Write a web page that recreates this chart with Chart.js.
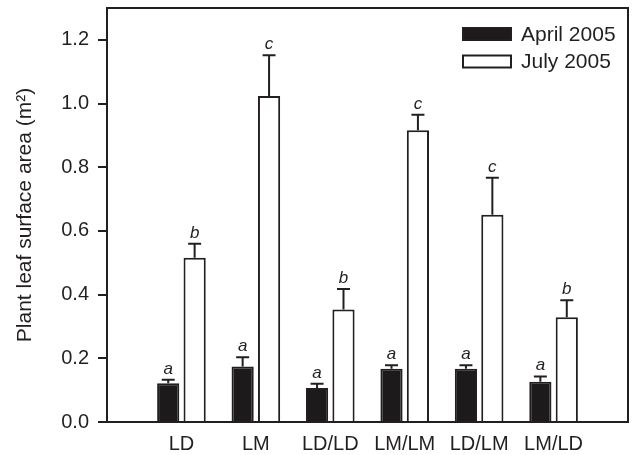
<!DOCTYPE html>
<html><head><meta charset="utf-8">
<script src="https://cdn.jsdelivr.net/npm/chart.js@4"></script>
<style>html,body{margin:0;padding:0;background:#fff}</style>
</head><body>
<canvas id="c" width="633" height="455"></canvas>
<script>
const categories = ['LD', 'LM', 'LD/LD', 'LM/LM', 'LD/LM', 'LM/LD'];
const seriesNames = ['April 2005', 'July 2005'];
const april2005 = [0.122, 0.174, 0.107, 0.167, 0.167, 0.126];
const april2005Err = [0.011, 0.029, 0.013, 0.011, 0.011, 0.017];
const april2005Letters = ['a', 'a', 'a', 'a', 'a', 'a'];
const july2005 = [0.516, 1.024, 0.353, 0.916, 0.651, 0.329];
const july2005Err = [0.044, 0.128, 0.065, 0.049, 0.116, 0.053];
const july2005Letters = ['b', 'c', 'b', 'c', 'c', 'b'];
const yTicks = [0, 0.2, 0.4, 0.6, 0.8, 1.0, 1.2];
const yMax = 1.3;
const yTitle = 'Plant leaf surface area (m\u00B2)';

const INK = '#231f20';
const FONT = "'Liberation Sans', Arial, Helvetica, sans-serif";

// pad with empty slots at both ends so the category axis spans 7 intervals
const labels = [''].concat(categories, ['']);
const pad = arr => [null].concat(arr, [null]);

const errs = [april2005Err, july2005Err];
const letters = [april2005Letters, july2005Letters];

const extrasPlugin = {
  id: 'extras',
  afterDatasetsDraw(chart) {
    const ctx = chart.ctx;
    const y = chart.scales.y;
    ctx.save();
    ctx.strokeStyle = INK;
    ctx.fillStyle = INK;
    ctx.lineWidth = 2;
    chart.data.datasets.forEach((ds, di) => {
      const meta = chart.getDatasetMeta(di);
      meta.data.forEach((el, i) => {
        const v = ds.data[i];
        if (v === null || v === undefined) return;
        const e = errs[di][i - 1];
        const yt = y.getPixelForValue(v + e);
        const yb = y.getPixelForValue(v);
        ctx.beginPath();
        ctx.moveTo(el.x, yb);
        ctx.lineTo(el.x, yt);
        ctx.moveTo(el.x - 6.5, yt);
        ctx.lineTo(el.x + 6.5, yt);
        ctx.stroke();
        ctx.font = "italic 17px " + FONT;
        ctx.textAlign = 'center';
        ctx.textBaseline = 'alphabetic';
        ctx.fillText(letters[di][i - 1], el.x, yt - 6);
      });
    });
    // frame top & right
    const a = chart.chartArea;
    ctx.beginPath();
    ctx.moveTo(a.left, a.top);
    ctx.lineTo(a.right, a.top);
    ctx.lineTo(a.right, a.bottom);
    ctx.stroke();
    // legend
    const bx = a.right - 165;
    chart.data.datasets.forEach((ds, di) => {
      const cy = 34 + di * 27.5;
      ctx.fillStyle = ds.backgroundColor;
      ctx.fillRect(bx, cy - 6, 48, 12);
      ctx.strokeStyle = INK;
      ctx.lineWidth = 2;
      ctx.strokeRect(bx, cy - 6, 48, 12);
      ctx.fillStyle = INK;
      ctx.font = "21px " + FONT;
      ctx.textAlign = 'left';
      ctx.textBaseline = 'middle';
      ctx.fillText(ds.label, bx + 58, cy + 1);
    });
    ctx.restore();
  }
};

new Chart(document.getElementById('c'), {
  type: 'bar',
  data: {
    labels: labels,
    datasets: [
      { label: seriesNames[0], data: pad(april2005), backgroundColor: '#1c1a1b', borderColor: INK, borderWidth: 2 },
      { label: seriesNames[1], data: pad(july2005), backgroundColor: '#ffffff', borderColor: INK, borderWidth: 2 }
    ]
  },
  options: {
    responsive: false,
    animation: false,
    layout: { padding: { top: 8, right: 5, left: 0, bottom: 0 } },
    datasets: { bar: { categoryPercentage: 0.71, barPercentage: 0.84 } },
    plugins: { legend: { display: false }, tooltip: { enabled: false } },
    scales: {
      x: {
        type: 'category',
        offset: false,
        grid: { display: true, drawOnChartArea: false, drawTicks: false },
        border: { display: true, width: 2, color: INK },
        ticks: { autoSkip: false, maxRotation: 0, padding: 10, color: INK, font: { family: FONT, size: 20 } },
        afterFit: s => { s.height = 33; s.paddingLeft = 0; s.paddingRight = 0; }
      },
      y: {
        min: 0,
        max: yMax,
        grid: { display: true, drawOnChartArea: false, drawTicks: true, tickLength: 9, lineWidth: 2, color: INK },
        border: { display: true, width: 2, color: INK },
        ticks: { padding: 9, color: INK, font: { family: FONT, size: 20 }, callback: v => Number(v).toFixed(1) },
        afterBuildTicks: s => { s.ticks = yTicks.map(v => ({ value: v })); },
        title: { display: true, text: yTitle, color: INK, font: { family: FONT, size: 21 }, padding: { top: 13, bottom: 0 } },
        afterFit: s => { s.width = 107; s.paddingTop = 0; s.paddingBottom = 0; }
      }
    }
  },
  plugins: [extrasPlugin]
});
</script>
</body></html>
